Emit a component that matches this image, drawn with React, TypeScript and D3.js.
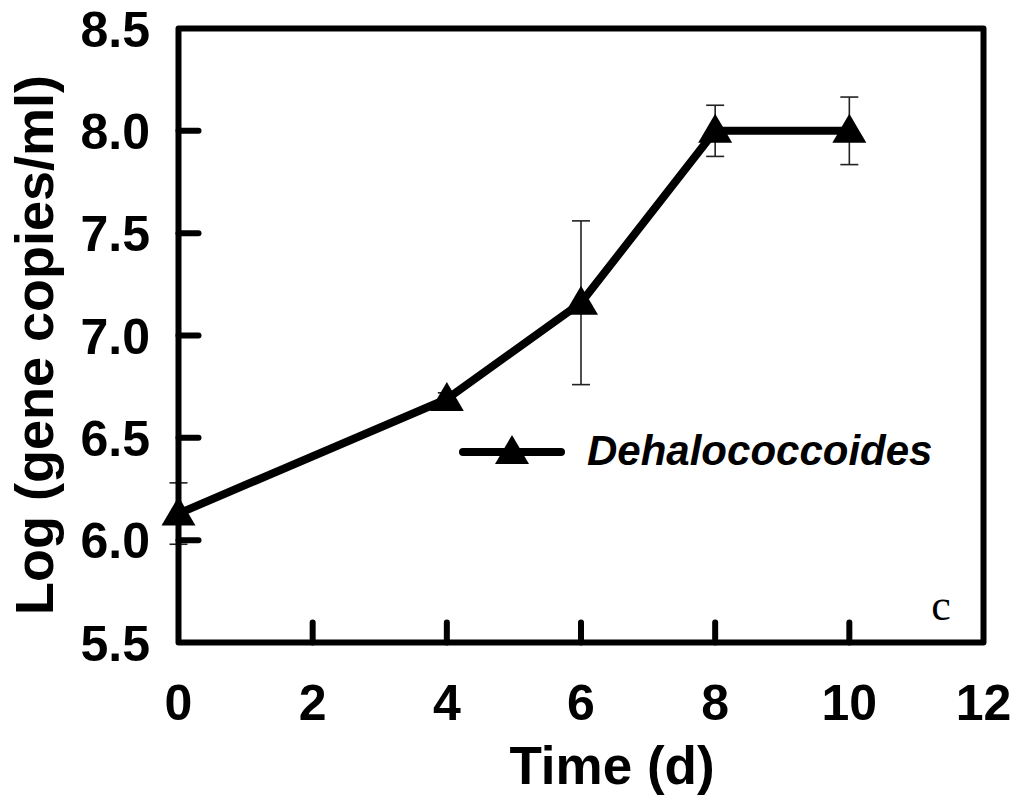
import React from "react";
import * as d3 from "d3";

const days = [0, 4, 6, 8, 10];
const logCopies = [6.13, 6.69, 7.16, 8.0, 8.0];
const errors = [0.15, 0.03, 0.4, 0.125, 0.165];
const xTicks = [0, 2, 4, 6, 8, 10, 12];
const yTicks = [5.5, 6.0, 6.5, 7.0, 7.5, 8.0, 8.5];
const seriesName = "Dehalococcoides";

const W = 1022;
const H = 800;
const L = 178.5, R = 983.5, T = 28.5, B = 642.5;
const FONT = "Arial, 'Liberation Sans', Helvetica, sans-serif";

export default function App() {
  const x = d3.scaleLinear().domain([0, 12]).range([L, R]);
  const y = d3.scaleLinear().domain([5.5, 8.5]).range([B, T]);
  const pts: [number, number][] = days.map((d, i) => [x(d), y(logCopies[i])]);
  const line = d3.line()(pts) as string;
  const tri = (cx: number, cy: number) =>
    `M${cx},${cy - 17} L${cx + 17},${cy + 12} L${cx - 17},${cy + 12} Z`;

  const legX1 = 463, legX2 = 561, legY = 452;

  return (
    <svg width={W} height={H} style={{ position: "absolute", left: 0, top: 0, background: "#fff" }}>
      <rect x={0} y={0} width={W} height={H} fill="#fff" />
      {/* error bars */}
      {days.map((d, i) => {
        const cx = x(d);
        const y1 = y(logCopies[i] + errors[i]);
        const y2 = y(logCopies[i] - errors[i]);
        return (
          <g key={"e" + i} stroke="#222" strokeWidth={1.6}>
            <line x1={cx} x2={cx} y1={y1} y2={y2} />
            <line x1={cx - 9} x2={cx + 9} y1={y1} y2={y1} />
            <line x1={cx - 9} x2={cx + 9} y1={y2} y2={y2} />
          </g>
        );
      })}
      {/* ticks */}
      {yTicks.slice(1, -1).map((t) => (
        <line key={"yt" + t} x1={L} x2={L + 20} y1={y(t)} y2={y(t)} stroke="#000" strokeWidth={6} strokeLinecap="round" />
      ))}
      {xTicks.slice(1, -1).map((t) => (
        <line key={"xt" + t} x1={x(t)} x2={x(t)} y1={B} y2={B - 20} stroke="#000" strokeWidth={6} strokeLinecap="round" />
      ))}
      {/* frame */}
      <rect x={L} y={T} width={R - L} height={B - T} fill="none" stroke="#000" strokeWidth={6} strokeLinejoin="round" />
      {/* series */}
      <path d={line} fill="none" stroke="#000" strokeWidth={8} strokeLinejoin="round" />
      {pts.map(([cx, cy], i) => (
        <path key={"m" + i} d={tri(cx, cy)} fill="#000" />
      ))}
      {/* tick labels */}
      {yTicks.map((t) => (
        <text key={"yl" + t} x={150} y={y(t)} dy="0.36em" textAnchor="end" fontFamily={FONT} fontWeight="bold" fontSize={50}>
          {t.toFixed(1)}
        </text>
      ))}
      {xTicks.map((t) => (
        <text key={"xl" + t} x={x(t)} y={720} textAnchor="middle" fontFamily={FONT} fontWeight="bold" fontSize={50}>
          {t}
        </text>
      ))}
      {/* axis titles */}
      <text x={612} y={784} textAnchor="middle" fontFamily={FONT} fontWeight="bold" fontSize={53}>
        Time (d)
      </text>
      <text transform="translate(53,345) rotate(-90)" textAnchor="middle" fontFamily={FONT} fontWeight="bold" fontSize={54}>
        Log (gene copies/ml)
      </text>
      {/* legend */}
      <line x1={legX1} x2={legX2} y1={legY} y2={legY} stroke="#000" strokeWidth={8} strokeLinecap="round" />
      <path d={tri((legX1 + legX2) / 2, legY)} fill="#000" />
      <text x={587} y={465} fontFamily={FONT} fontWeight="bold" fontStyle="italic" fontSize={42}>
        {seriesName}
      </text>
      {/* panel letter */}
      <text x={941} y={620} textAnchor="middle" fontFamily="'Times New Roman', 'Liberation Serif', serif" fontSize={44}>
        c
      </text>
    </svg>
  );
}
